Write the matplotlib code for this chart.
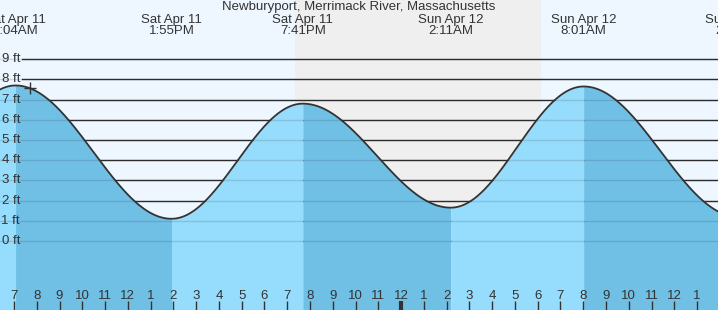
### Tide chart: Newburyport, Merrimack River
import matplotlib.pyplot as plt
import numpy as np

plt.rcParams['font.family'] = ['Liberation Sans', 'DejaVu Sans']

# high / low tides, hours after Sat Apr 11 00:00
ext_hours = [1.1, 7 + 4/60, 13 + 55/60, 19 + 41/60, 24 + 2 + 11/60, 24 + 8 + 1/60, 24 + 14 + 48/60]
ext_ft = [1.4, 7.7, 1.1, 6.8, 1.65, 7.65, 1.2]
ext_labels = ['Sat Apr 11\n1:06AM', 'Sat Apr 11\n7:04AM', 'Sat Apr 11\n1:55PM', 'Sat Apr 11\n7:41PM',
              'Sun Apr 12\n2:11AM', 'Sun Apr 12\n8:01AM', 'Sun Apr 12\n2:48PM']

sunset = 19 + 20/60
sunrise = 24 + 6 + 8/60
now = 7.70

hour_ticks = list(range(7, 38))
hour_labels = [str((h - 1) % 12 + 1) for h in hour_ticks]
ft_levels = list(range(0, 10))

title = 'Newburyport, Merrimack River, Massachusetts'

bg = '#eef7ff'
night = '#efefef'
rising = '#96dcfc'
falling = '#70c0e6'
dark = '#333333'

W, H = 718, 310
px_per_hr = 22.77
px_per_ft = 20.2
x0 = 7 - 14 / px_per_hr
x1 = x0 + W / px_per_hr
ytop = 241 / px_per_ft
ybot = -(H - 241) / px_per_ft

fig = plt.figure(figsize=(W / 100, H / 100), dpi=100)
fig.patch.set_facecolor(bg)
ax = fig.add_axes([0, 0, 1, 1])
ax.set_facecolor(bg)
ax.set_xlim(x0, x1)
ax.set_ylim(ybot, ytop)
ax.axis('off')

ax.axvspan(sunset, sunrise, color=night, lw=0, zorder=0)

for lv in ft_levels:
    ax.axhline(lv, xmin=22 / W, color=dark, lw=1, zorder=1)
    ax.text(20 / W, lv, f'{lv} ft', transform=ax.get_yaxis_transform(), ha='right', va='center',
            fontsize=9.5, color=dark, zorder=5)

def tide_at(t):
    i = np.searchsorted(ext_hours, t) - 1
    i = np.clip(i, 0, len(ext_hours) - 2)
    ta, tb = np.array(ext_hours)[i], np.array(ext_hours)[i + 1]
    ha, hb = np.array(ext_ft)[i], np.array(ext_ft)[i + 1]
    f = (t - ta) / (tb - ta)
    return ha + (hb - ha) * (1 - np.cos(np.pi * f)) / 2

t_all = []
h_all = []
for i in range(len(ext_hours) - 1):
    t = np.linspace(ext_hours[i], ext_hours[i + 1], 200)
    h = tide_at(t)
    col = rising if ext_ft[i + 1] > ext_ft[i] else falling
    ax.fill_between(t, ybot, h, color=col, lw=0, zorder=2)
    t_all.append(t)
    h_all.append(h)
t_all = np.concatenate(t_all)
h_all = np.concatenate(h_all)

for lv in ft_levels:
    ax.axhline(lv, color=(0, 0, 0, 0.12), lw=1, zorder=3)

ax.plot(t_all, h_all, color=dark, lw=1.3, zorder=4)
ax.plot([now], [tide_at(np.array([now]))[0]], marker='+', ms=9, mew=1, color=dark, zorder=5)

for t, lab in zip(ext_hours, ext_labels):
    ax.text(t, 1 - 25.5 / H, lab, transform=ax.get_xaxis_transform(), ha='center', va='center',
            fontsize=9.5, color=dark, linespacing=1.0, zorder=5)

ax.text(0.5, 1 - 7 / H, title, transform=ax.transAxes, ha='center', va='center',
        fontsize=9.5, color=dark, zorder=5)

for h, lab in zip(hour_ticks, hour_labels):
    ax.text(h, 14 / H, lab, transform=ax.get_xaxis_transform(), ha='center', va='center',
            fontsize=9.5, color=dark, zorder=5)
    lw = 3 if h % 24 == 0 else 1
    ax.plot([h, h], [0, 9 / H], transform=ax.get_xaxis_transform(), color=dark, lw=lw,
            solid_capstyle='butt', zorder=5)

fig.savefig('out.png', dpi=100, facecolor=bg)
